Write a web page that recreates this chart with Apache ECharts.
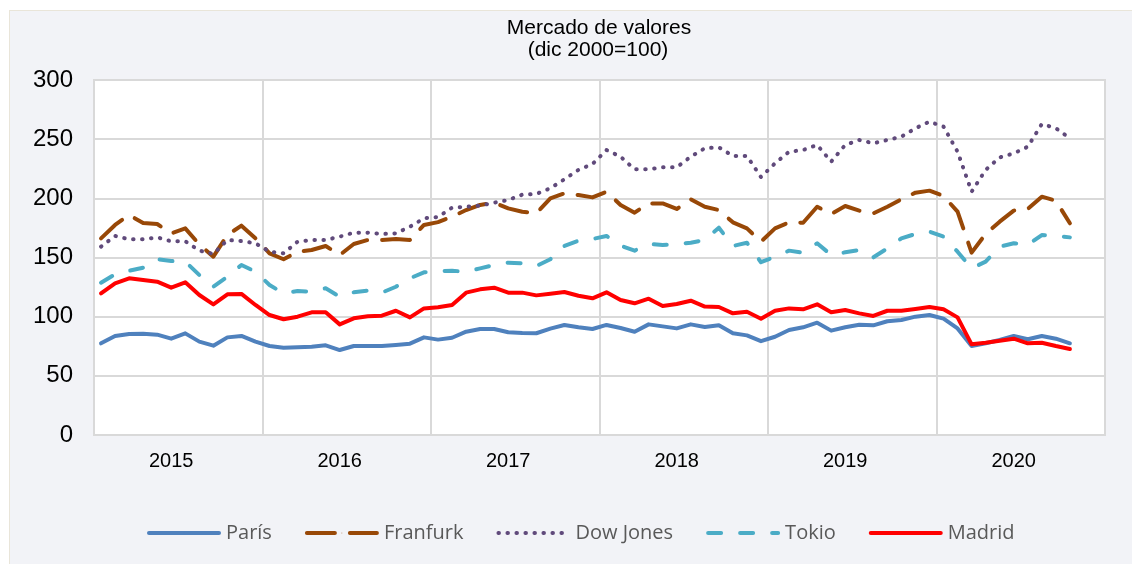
<!DOCTYPE html>
<html>
<head>
<meta charset="utf-8">
<script src="https://cdn.jsdelivr.net/npm/echarts@6/dist/echarts.min.js"></script>
<style>
html,body{margin:0;padding:0;background:#ffffff;}
#bg{position:absolute;left:9px;top:10px;width:1130px;height:560px;background:#f2f3f7;border-left:1px solid #e9e5d9;border-top:1px solid #e9e5d9;box-sizing:border-box;}
#chart{position:absolute;left:0;top:0;width:1132px;height:564px;}
</style>
</head>
<body>
<div id="bg"></div>
<div id="chart"></div>
<script>
// Monthly categories Jan 2015 - Dec 2020
const years = ['2015','2016','2017','2018','2019','2020'];
const months = [];
years.forEach(function(y){ for (let m = 1; m <= 12; m++) months.push(y + '-' + (m < 10 ? '0' + m : m)); });

const yTicks = [0, 50, 100, 150, 200, 250, 300];

const paris = [77.5,83.6,85.3,85.5,84.8,81.4,85.9,78.9,75.5,82.5,83.7,78.9,
  75.2,73.8,74.2,74.6,75.8,71.8,75.2,75.2,75.2,76.1,77.2,82.5,
  80.6,82.2,87.3,89.6,89.6,86.8,86.2,86.0,89.9,93.0,91.0,89.6,
  93.0,90.4,87.3,93.5,91.8,90.1,93.5,91.3,92.7,85.9,84.2,79.3,
  83.0,88.7,91.0,94.9,88.2,91.0,93.2,92.7,96.1,97.2,100.0,101.4,
  98.3,90.1,75.2,77.5,80.3,83.7,80.9,83.7,81.4,77.5];

const franfurk = [166.2,177.5,185.9,179.2,178.3,170.4,174.6,161.1,150.7,169.0,176.9,166.2,
  153.5,148.5,154.9,156.3,159.7,152.1,161.4,164.8,164.8,165.6,164.8,177.5,
  179.9,184.5,190.1,194.4,196.3,191.5,188.7,187.3,200.0,204.2,202.8,200.8,
  205.6,194.4,187.9,195.7,195.7,191.0,199.2,192.9,190.1,179.7,174.6,163.4,
  174.6,179.7,179.4,192.9,186.8,193.5,189.6,187.3,192.9,199.2,204.8,206.5,
  202.0,188.7,154.1,169.9,180.3,189.6,191.0,201.4,198.0,178.9];

const dowJones = [159.2,168.2,165.4,165.4,167.0,163.7,163.7,155.8,153.0,164.8,163.9,162.0,
  154.9,153.5,163.4,164.8,164.8,167.6,171.0,171.0,169.9,170.4,176.0,183.1,
  184.2,192.1,192.9,193.8,196.3,198.6,203.1,203.7,208.5,216.1,224.0,229.0,
  240.8,235.2,224.5,224.5,226.2,226.2,235.2,242.3,243.1,235.8,235.8,218.0,
  229.6,239.4,240.8,245.1,231.0,245.1,249.3,246.5,249.3,252.1,259.2,264.8,
  260.6,239.4,205.6,224.0,234.6,238.0,243.6,262.8,259.2,250.7];

const tokio = [128.7,135.8,138.8,141.4,148.5,147.0,146.5,135.2,125.3,133.8,143.7,138.0,
  126.8,119.7,121.7,121.1,124.0,116.9,120.6,122.0,120.3,125.3,132.4,137.5,
  138.4,138.8,138.0,140.8,143.7,145.6,145.1,142.8,148.5,159.7,164.2,165.6,
  168.2,160.0,155.8,161.4,160.6,161.0,162.5,164.8,175.2,159.7,162.5,146.0,
  150.7,155.8,154.1,162.0,152.1,154.4,156.3,150.1,157.7,166.2,169.9,171.8,
  167.6,154.9,140.8,146.5,159.2,162.0,160.6,169.0,168.2,167.0];

const madrid = [119.7,128.2,132.4,131.0,129.6,124.5,129.0,118.3,110.4,118.9,119.2,109.9,
  101.4,97.8,100.0,103.7,103.7,93.5,98.6,100.3,100.8,105.0,99.4,107.0,
  107.9,109.9,120.3,123.1,124.5,120.3,120.3,118.0,119.4,120.8,117.7,115.5,
  120.6,114.1,111.3,115.2,109.0,110.7,113.5,108.5,108.2,102.8,104.2,98.3,
  105.0,107.0,106.2,110.4,103.7,105.6,102.8,100.6,105.0,105.0,106.5,108.2,
  106.2,99.4,76.6,78.0,79.7,81.4,77.5,78.0,75.2,72.7];

const seriesNames = ['París', 'Franfurk', 'Dow Jones', 'Tokio', 'Madrid'];
const titleLines = ['Mercado de valores', '(dic 2000=100)'];

const chart = echarts.init(document.getElementById('chart'), null, {renderer: 'canvas'});

function mk(name, data, color, type, width) {
  return {
    name: name, type: 'line', data: data, symbol: 'none', smooth: false,
    lineStyle: {color: color, width: width, type: type, cap: 'round', join: 'round'},
    itemStyle: {color: color},
    emphasis: {disabled: true},
    animation: false
  };
}

const titleFont = '21px "Liberation Sans", Arial, sans-serif';

chart.setOption({
  animation: false,
  backgroundColor: 'transparent',
  graphic: [
    {type: 'text', x: 599, y: 28.5, style: {text: titleLines[0], font: titleFont, fill: '#000', align: 'center', verticalAlign: 'middle'}},
    {type: 'text', x: 598, y: 50.5, style: {text: titleLines[1], font: titleFont, fill: '#000', align: 'center', verticalAlign: 'middle'}}
  ],
  grid: {left: 94, right: 27, top: 80, bottom: 129, show: true, backgroundColor: '#ffffff', borderColor: '#d9d9d9', borderWidth: 2, containLabel: false},
  legend: {
    data: seriesNames, left: 142, top: 518, itemWidth: 70, itemHeight: 1, itemGap: 33,
    lineStyle: {width: 4, cap: 'round'},
    textStyle: {fontFamily: '"Open Sans", sans-serif', fontSize: 20, color: '#595959', padding: [0, 0, 0, 2]},
    selectedMode: false
  },
  xAxis: {
    type: 'category', data: months, boundaryGap: true,
    axisLine: {show: false}, axisTick: {show: false},
    axisLabel: {
      interval: function (i) { return i % 12 === 5; },
      formatter: function (v) { return v.slice(0, 4); },
      fontFamily: '"Liberation Sans", Arial, sans-serif', fontSize: 20, color: '#000', margin: 16
    },
    splitLine: {show: true, interval: function (i) { return i % 12 === 0; }, lineStyle: {color: '#d9d9d9', width: 2}}
  },
  yAxis: {
    type: 'value', min: yTicks[0], max: yTicks[yTicks.length - 1], interval: 50,
    axisLine: {show: false}, axisTick: {show: false},
    axisLabel: {fontFamily: '"Liberation Sans", Arial, sans-serif', fontSize: 24, color: '#000', margin: 21},
    splitLine: {show: true, lineStyle: {color: '#d9d9d9', width: 2}}
  },
  series: [
    mk(seriesNames[0], paris, '#4f81bd', 'solid', 4),
    mk(seriesNames[1], franfurk, '#984807', [28, 15], 4),
    mk(seriesNames[2], dowJones, '#604a7b', [0.5, 8.5], 4),
    mk(seriesNames[3], tokio, '#4bacc6', [13, 19], 4),
    mk(seriesNames[4], madrid, '#ff0000', 'solid', 4)
  ]
});
</script>
</body>
</html>
